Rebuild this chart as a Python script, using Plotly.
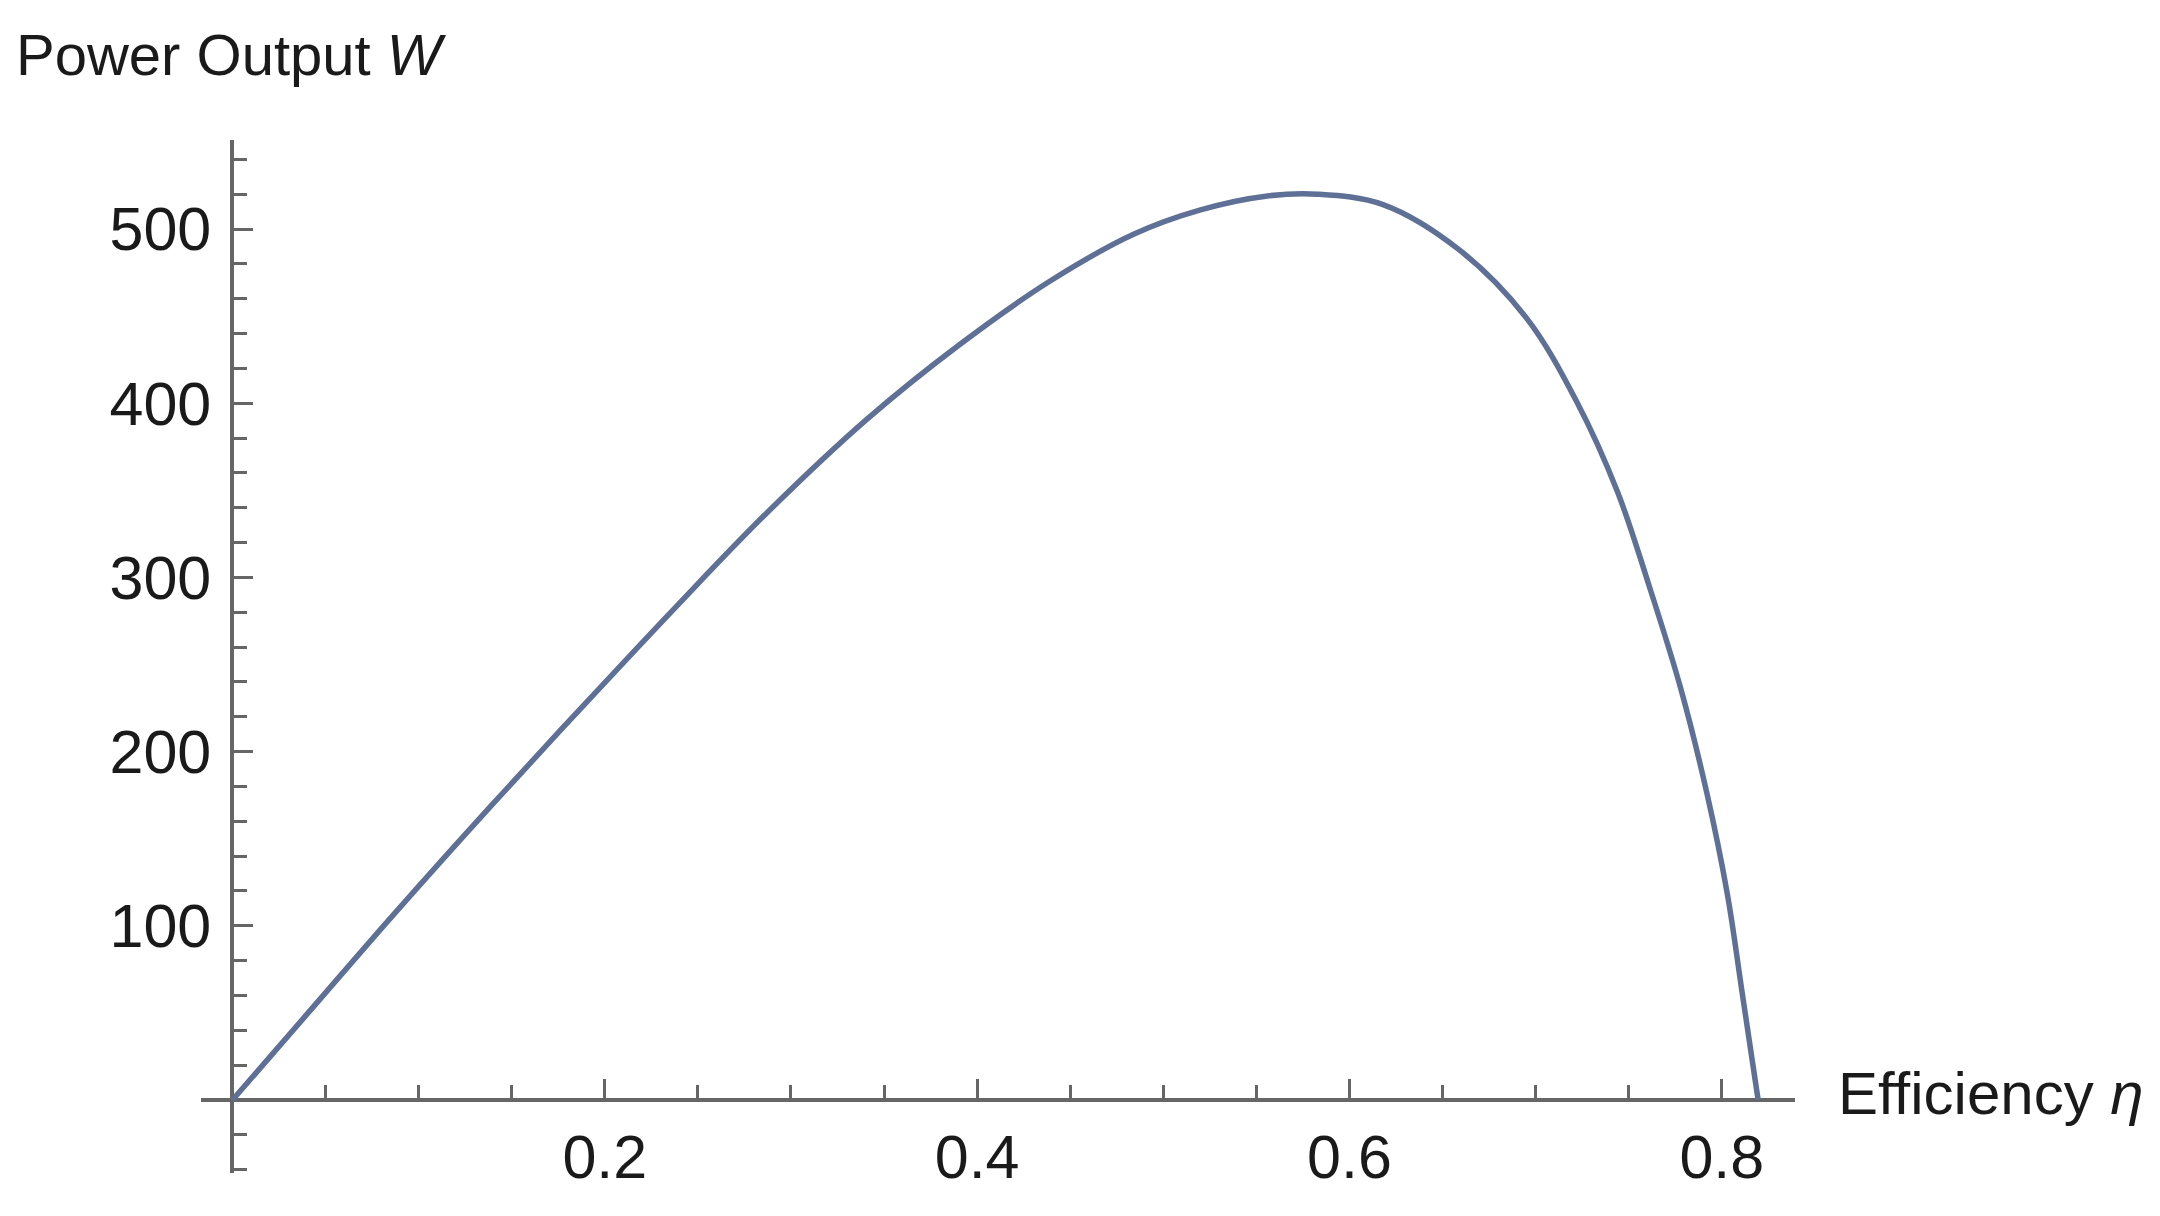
import plotly.graph_objects as go

# Power output vs efficiency
efficiency = [0.0, 0.039, 0.087, 0.139, 0.189, 0.239, 0.287, 0.341, 0.391,
              0.439, 0.484, 0.520, 0.556, 0.583, 0.618, 0.659, 0.695, 0.722,
              0.744, 0.761, 0.778, 0.792, 0.803, 0.811, 0.8195]
power = [0, 48, 107, 169, 227, 284, 337, 391, 434,
         470, 497, 511, 519, 520, 514, 488, 449, 401,
         349, 295, 236, 176, 118, 61, 0]

x_ticks = [0.2, 0.4, 0.6, 0.8]
y_ticks = [100, 200, 300, 400, 500]

x_range = [-0.0169, 0.8393]
y_range = [-41.9, 551.1]

axis_col = "#666666"
text_col = "#1a1a1a"
font = "Liberation Sans, Arial, sans-serif"

fig = go.Figure(go.Scatter(
    x=efficiency,
    y=power,
    mode="lines",
    line=dict(color="#5f7096", width=5.5, shape="spline", smoothing=1.0),
    hoverinfo="skip",
))

# axes cross at the origin, Mathematica style
x_pos = (0 - y_range[0]) / (y_range[1] - y_range[0])
y_pos = (0 - x_range[0]) / (x_range[1] - x_range[0])

fig.update_xaxes(
    range=x_range, automargin=False,
    anchor="free", position=x_pos,
    showline=True, linecolor=axis_col, linewidth=4,
    showgrid=False, zeroline=False,
    tickmode="array", tickvals=x_ticks, ticktext=[str(v) for v in x_ticks],
    ticks="inside", ticklen=19, tickwidth=3, tickcolor=axis_col,
    ticklabelstandoff=3,
    minor=dict(ticks="inside", ticklen=13, tickwidth=3, tickcolor=axis_col,
               tickmode="linear", tick0=0, dtick=0.05, showgrid=False),
    tickfont=dict(family=font, size=61, color=text_col),
    layer="below traces",
)
fig.update_yaxes(
    range=y_range, automargin=False,
    anchor="free", position=y_pos,
    showline=True, linecolor=axis_col, linewidth=4,
    showgrid=False, zeroline=False,
    tickmode="array", tickvals=y_ticks, ticktext=[str(v) for v in y_ticks],
    ticks="inside", ticklen=19, tickwidth=3, tickcolor=axis_col,
    ticklabelstandoff=7,
    minor=dict(ticks="inside", ticklen=13, tickwidth=3, tickcolor=axis_col,
               tickmode="linear", tick0=0, dtick=20, showgrid=False),
    tickfont=dict(family=font, size=61, color=text_col),
    layer="below traces",
)

fig.add_annotation(
    text="Power Output <i>W</i>", xref="paper", yref="paper",
    x=-0.1175, y=1.0823, xanchor="left", yanchor="middle", showarrow=False,
    font=dict(family=font, size=58, color=text_col),
)
fig.add_annotation(
    text="Efficiency <i>η</i>", xref="paper", yref="paper",
    x=1.026, y=x_pos + 0.006, xanchor="left", yanchor="middle", showarrow=False,
    font=dict(family=font, size=60, color=text_col),
)

# the page body adds an 8px offset, so the figure is 8px smaller each way
fig.update_layout(
    width=2152, height=1208, autosize=False,
    margin=dict(l=193, r=365, t=132, b=43),
    plot_bgcolor="white", paper_bgcolor="white",
    showlegend=False,
)

fig.write_html("out.html")
